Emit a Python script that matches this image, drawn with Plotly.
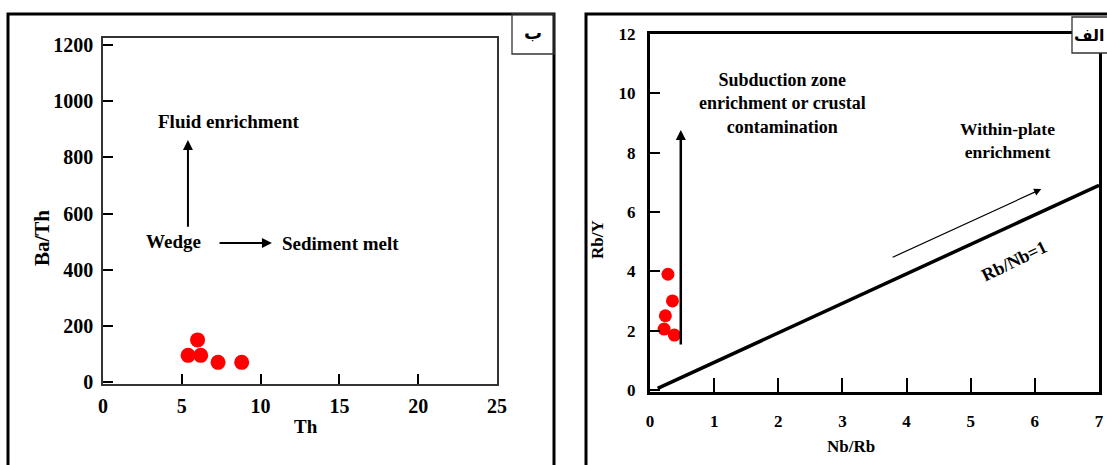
import plotly.graph_objects as go

W, H = 1107, 465

# ---- data: Ba/Th vs Th ----
th = [5.4, 6.0, 6.2, 7.3, 8.8]
ba_th = [95, 150, 95, 70, 70]

# ---- data: Rb/Y vs Nb/Rb ----
nb_rb = [0.28, 0.35, 0.24, 0.22, 0.38]
rb_y = [3.9, 3.0, 2.5, 2.05, 1.85]

# reference line Rb/Nb = 1
ref_x = [0.12, 7.0]
ref_y = [0.05, 6.9]

left_xticks = [0, 5, 10, 15, 20, 25]
left_yticks = [0, 200, 400, 600, 800, 1000, 1200]
right_xticks = [0, 1, 2, 3, 4, 5, 6, 7]
right_yticks = [0, 2, 4, 6, 8, 10, 12]

SERIF = "Liberation Serif"
ARABIC = "DejaVu Sans"


def px(x):
    return x / W


def py(y):
    return 1 - y / H


def bold(size, family=SERIF):
    return dict(family=family, size=size, color="black", weight="bold")


fig = go.Figure()

fig.add_trace(go.Scatter(
    x=th, y=ba_th, mode="markers", xaxis="x", yaxis="y",
    marker=dict(color="#ff0000", size=15, line=dict(width=0)),
    showlegend=False, hoverinfo="skip"))

fig.add_trace(go.Scatter(
    x=ref_x, y=ref_y, mode="lines", xaxis="x2", yaxis="y2",
    line=dict(color="black", width=3.5),
    showlegend=False, hoverinfo="skip"))

fig.add_trace(go.Scatter(
    x=nb_rb, y=rb_y, mode="markers", xaxis="x2", yaxis="y2",
    marker=dict(color="#ff0000", size=13, line=dict(width=0)),
    showlegend=False, hoverinfo="skip"))

fig.update_layout(
    width=W, height=H,
    margin=dict(l=0, r=0, t=0, b=0, autoexpand=False),
    paper_bgcolor="white", plot_bgcolor="white",
    xaxis=dict(domain=[px(103), px(497)], range=[0, 25],
               tickvals=left_xticks, ticks="inside", ticklen=10,
               tickwidth=2, tickcolor="black", showgrid=False,
               zeroline=False, showline=True, mirror=True,
               linecolor="#333", linewidth=1.6, tickfont=bold(20),
               ticklabelstandoff=3, anchor="y"),
    yaxis=dict(domain=[py(384), py(38)], range=[-7, 1225],
               tickvals=left_yticks, ticks="inside", ticklen=10,
               tickwidth=2, tickcolor="black", showgrid=False,
               zeroline=False, showline=True, mirror=True,
               linecolor="#333", linewidth=1.6, tickfont=bold(20),
               ticklabelstandoff=4, anchor="x"),
    xaxis2=dict(domain=[px(650), px(1099)], range=[0, 7],
                tickvals=right_xticks, ticks="inside", ticklen=14,
                tickwidth=2, tickcolor="black", showgrid=False,
                zeroline=False, showline=True, mirror=True,
                linecolor="black", linewidth=3, tickfont=bold(17),
                ticklabelstandoff=12, anchor="y2"),
    yaxis2=dict(domain=[py(392), py(34)], range=[-0.07, 12.0],
                tickvals=right_yticks, ticks="inside", ticklen=10,
                tickwidth=2, tickcolor="black", showgrid=False,
                zeroline=False, showline=True, mirror=True,
                linecolor="black", linewidth=3, tickfont=bold(17),
                ticklabelstandoff=8, anchor="x2"),
)

shapes = [
    # outer panel frames
    dict(type="rect", xref="paper", yref="paper",
         x0=px(8), x1=px(554), y0=py(480), y1=py(14),
         line=dict(color="black", width=3)),
    dict(type="rect", xref="paper", yref="paper",
         x0=px(586), x1=px(1120), y0=py(480), y1=py(14),
         line=dict(color="black", width=3)),
    # panel letter boxes
    dict(type="rect", xref="paper", yref="paper",
         x0=px(512), x1=px(554), y0=py(54), y1=py(14),
         line=dict(color="#333", width=1.3)),
    dict(type="rect", xref="paper", yref="paper",
         x0=px(1072), x1=px(1120), y0=py(53), y1=py(17),
         fillcolor="white", line=dict(color="#333", width=1.3)),
]
fig.update_layout(shapes=shapes)


def label(xref, yref, x, y, text, font, angle=0):
    return dict(xref=xref, yref=yref, x=x, y=y, text=text,
                showarrow=False, font=font, textangle=angle,
                xanchor="center", yanchor="middle")


def arrow(xref, yref, x, y, ax, ay, size, width):
    return dict(xref=xref, yref=yref, axref=xref, ayref=yref,
                x=x, y=y, ax=ax, ay=ay, text="", showarrow=True,
                arrowhead=2, arrowsize=size, arrowwidth=width,
                arrowcolor="black")


annotations = [
    # left panel labels and arrows
    label("x", "y", 8.0, 926, "Fluid enrichment", bold(19)),
    label("x", "y", 4.5, 502, "Wedge", bold(19)),
    label("x", "y", 15.1, 495, "Sediment melt", bold(19)),
    arrow("x", "y", 5.39, 862, 5.39, 548, 1, 2),
    arrow("x", "y", 10.72, 495, 7.30, 495, 1, 2),
    # left axis titles
    label("paper", "paper", px(306), py(426), "Th", bold(19)),
    label("paper", "paper", px(42), py(238), "Ba/Th", bold(21), -90),
    # right panel labels and arrows
    label("x2", "y2", 2.07, 9.67,
          "Subduction zone<br>enrichment or crustal<br>contamination",
          bold(18)),
    label("x2", "y2", 5.58, 8.42, "Within-plate<br>enrichment", bold(17.5)),
    label("x2", "y2", 5.68, 4.35, "Rb/Nb=1", bold(18), -26),
    arrow("x2", "y2", 0.48, 8.76, 0.48, 1.48, 0.8, 2.5),
    arrow("x2", "y2", 6.10, 6.77, 3.76, 4.45, 1.2, 1.2),
    # right axis titles
    label("paper", "paper", px(851), py(446), "Nb/Rb", bold(17)),
    label("paper", "paper", px(597), py(240), "Rb/Y", bold(17), -90),
    # panel letters
    label("paper", "paper", px(533), py(33), "ب", bold(18, ARABIC)),
    label("paper", "paper", px(1089), py(35), "الف", bold(16, ARABIC)),
]
fig.update_layout(annotations=annotations)

fig.write_html("out.html")
